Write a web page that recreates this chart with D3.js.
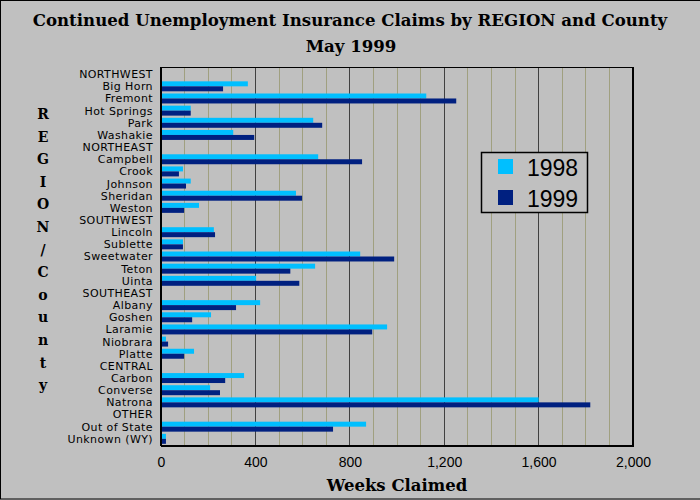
<!DOCTYPE html>
<html lang="en">
<head>
  <meta charset="UTF-8">
  <title>Continued Unemployment Insurance Claims</title>
  <script src="https://d3js.org/d3.v7.min.js"></script>
  <style>
    body { margin: 0; background: #c0c0c0; }
    svg { display: block; }
    .cat text { font-family: "DejaVu Sans", sans-serif; font-size: 11px; letter-spacing: 0.4px; fill: #000; }
    .tick text { font-family: "Liberation Sans", sans-serif; font-size: 14px; fill: #000; }
    .serif { font-family: "DejaVu Serif", serif; font-weight: bold; fill: #000; }
  </style>
</head>
<body>
  <svg width="700" height="500"></svg>
  <script>
    const rows = ["NORTHWEST", "Big Horn", "Fremont", "Hot Springs", "Park", "Washakie",
      "NORTHEAST", "Campbell", "Crook", "Johnson", "Sheridan", "Weston",
      "SOUTHWEST", "Lincoln", "Sublette", "Sweetwater", "Teton", "Uinta",
      "SOUTHEAST", "Albany", "Goshen", "Laramie", "Niobrara", "Platte",
      "CENTRAL", "Carbon", "Converse", "Natrona",
      "OTHER", "Out of State", "Unknown (WY)"];
    // null = region heading row, no bars
    const claims1998 = [null, 368, 1124, 126, 645, 306,
      null, 666, 93, 126, 572, 161,
      null, 224, 93, 844, 653, 403,
      null, 420, 212, 958, 21, 140,
      null, 352, 208, 1600,
      null, 869, 21];
    const claims1999 = [null, 263, 1251, 126, 683, 395,
      null, 852, 76, 106, 598, 98,
      null, 229, 93, 988, 548, 586,
      null, 318, 132, 895, 30, 98,
      null, 272, 250, 1819,
      null, 729, 21];
    const years = ["1998", "1999"];
    const colors = ["#00bfff", "#002080"];
    const xTicks = [0, 400, 800, 1200, 1600, 2000];
    const yTitle = "REGION/County";

    const svg = d3.select("svg");
    const plot = { left: 161, right: 633, top: 67, bottom: 446 };

    // outer frame
    svg.append("rect")
      .attr("x", 0.5).attr("y", 0.5)
      .attr("width", 702).attr("height", 498.5)
      .attr("fill", "#c0c0c0").attr("stroke", "#000");

    const x = d3.scaleLinear().domain([0, 2000]).range([plot.left, plot.right]);
    const y = d3.scaleBand().domain(rows).range([plot.top, plot.bottom]).padding(0.18);
    const ySub = d3.scaleBand().domain(years).range([0, y.bandwidth()]);

    // grid lines
    svg.append("g")
      .selectAll("line")
      .data(d3.range(100, 2000, 100))
      .join("line")
      .attr("x1", d => x(d)).attr("x2", d => x(d))
      .attr("y1", plot.top).attr("y2", plot.bottom)
      .attr("stroke", d => d % 400 === 0 ? "#404040" : "#a0a080")
      .attr("stroke-width", 1)
      .attr("shape-rendering", "crispEdges");

    // bars
    const series = [claims1998, claims1999];
    series.forEach((vals, i) => {
      svg.append("g")
        .selectAll("rect")
        .data(rows.map((r, j) => ({ r, v: vals[j] })).filter(d => d.v != null))
        .join("rect")
        .attr("x", x(0))
        .attr("y", d => y(d.r) + ySub(years[i]))
        .attr("width", d => x(d.v) - x(0))
        .attr("height", ySub.bandwidth())
        .attr("fill", colors[i]);
    });

    // plot frame
    const frame = svg.append("g").attr("stroke", "#000").attr("shape-rendering", "crispEdges");
    frame.append("line").attr("x1", plot.left).attr("x2", plot.right).attr("y1", plot.top).attr("y2", plot.top);
    frame.append("line").attr("x1", plot.right).attr("x2", plot.right).attr("y1", plot.top).attr("y2", plot.bottom).attr("stroke-width", 2);
    frame.append("line").attr("x1", plot.left).attr("x2", plot.left).attr("y1", plot.top).attr("y2", plot.bottom).attr("stroke-width", 1.5);
    frame.append("line").attr("x1", plot.left).attr("x2", plot.right + 1).attr("y1", plot.bottom).attr("y2", plot.bottom).attr("stroke-width", 2.5);

    // x axis
    svg.append("g")
      .attr("transform", `translate(0,${plot.bottom})`)
      .call(d3.axisBottom(x).tickValues(xTicks).tickFormat(d3.format(",")).tickSize(0).tickPadding(11))
      .call(g => g.select(".domain").remove());

    // category labels
    svg.append("g").attr("class", "cat")
      .selectAll("text")
      .data(rows)
      .join("text")
      .attr("x", 153)
      .attr("y", d => y(d) + y.bandwidth() / 2)
      .attr("dy", "0.36em")
      .attr("text-anchor", "end")
      .text(d => d);

    // titles
    svg.append("text").attr("class", "serif")
      .attr("x", 350).attr("y", 26)
      .attr("text-anchor", "middle").style("font-size", "16.6px")
      .text("Continued Unemployment Insurance Claims by REGION and County");
    svg.append("text").attr("class", "serif")
      .attr("x", 351).attr("y", 52)
      .attr("text-anchor", "middle").style("font-size", "16.6px")
      .text("May 1999");
    svg.append("text").attr("class", "serif")
      .attr("x", (plot.left + plot.right) / 2).attr("y", 491)
      .attr("text-anchor", "middle").style("font-size", "16.5px")
      .text("Weeks Claimed");

    // vertical y title, one letter per line
    svg.append("g")
      .selectAll("text")
      .data(yTitle.split(""))
      .join("text")
      .attr("class", "serif")
      .attr("x", 43)
      .attr("y", (d, i) => 119 + i * 22.6)
      .attr("text-anchor", "middle")
      .style("font-size", "14px")
      .text(d => d);

    // legend
    const legend = svg.append("g");
    legend.append("rect")
      .attr("x", 481.5).attr("y", 152.5).attr("width", 106).attr("height", 60)
      .attr("fill", "#c0c0c0").attr("stroke", "#000").attr("stroke-width", 1.5);
    years.forEach((yr, i) => {
      legend.append("rect")
        .attr("x", 498).attr("y", 159 + i * 31)
        .attr("width", 15).attr("height", 15)
        .attr("fill", colors[i]);
      legend.append("text")
        .attr("x", 527).attr("y", 176 + i * 31)
        .style("font-family", "'Liberation Sans', sans-serif")
        .style("font-size", "23px")
        .text(yr);
    });
  </script>
</body>
</html>
